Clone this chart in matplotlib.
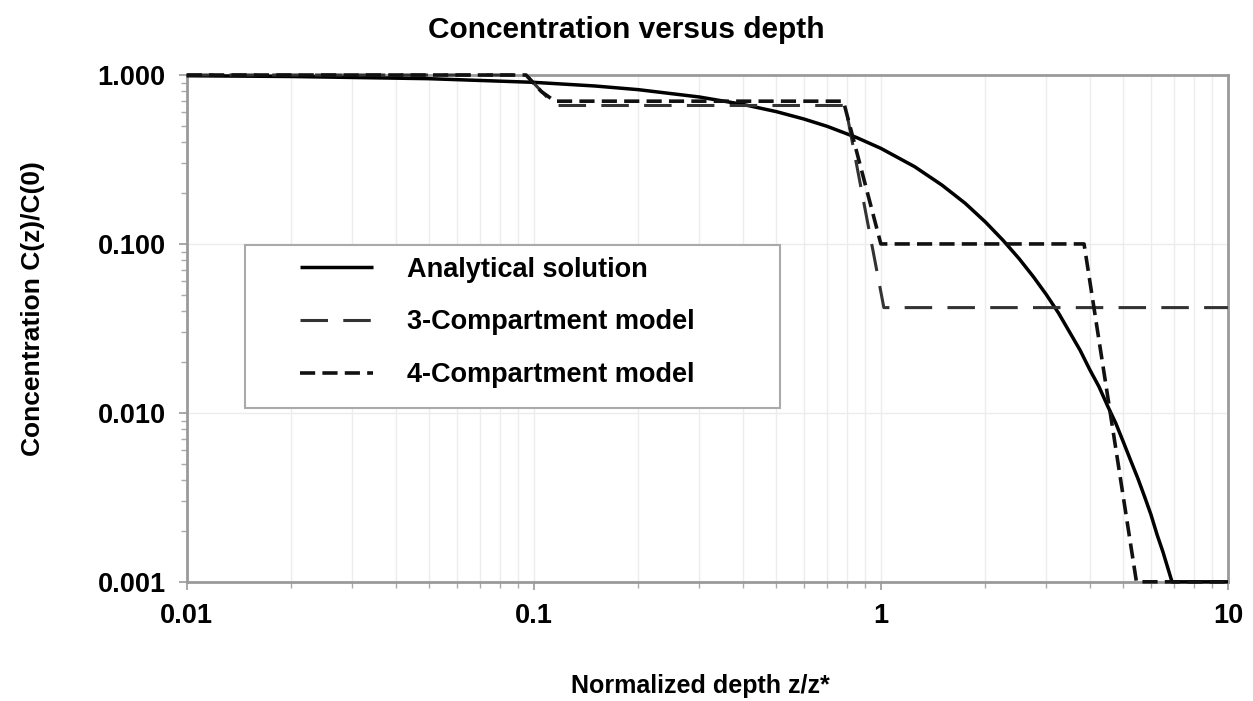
import matplotlib
matplotlib.use("Agg")
import matplotlib.pyplot as plt
from matplotlib.patches import Rectangle
from matplotlib.ticker import FixedLocator, FixedFormatter, LogLocator, NullFormatter

# Valeurs
z_analytical = [0.01, 0.02, 0.05, 0.1, 0.15, 0.2, 0.3, 0.4, 0.5, 0.6, 0.7, 0.85,
                1.0, 1.25, 1.5, 1.75, 2.0, 2.25, 2.5, 2.75, 3.0, 3.25, 3.5, 3.75,
                4.0, 4.25, 4.5, 4.75, 5.0, 5.25, 5.5, 5.75, 6.0, 6.25, 6.5, 6.9, 10.0]
c_analytical = [0.990, 0.980, 0.951, 0.905, 0.861, 0.819, 0.741, 0.670, 0.607,
                0.549, 0.497, 0.427, 0.368, 0.287, 0.223, 0.174, 0.135, 0.105,
                0.082, 0.064, 0.050, 0.039, 0.030, 0.0235, 0.018, 0.0143, 0.011,
                0.0087, 0.0067, 0.0052, 0.0041, 0.0032, 0.0025, 0.0019, 0.0015,
                0.0010, 0.0010]

z_3comp = [0.01, 0.095, 0.115, 0.79, 1.02, 10.0]
c_3comp = [1.0, 1.0, 0.66, 0.66, 0.042, 0.042]

z_4comp = [0.01, 0.095, 0.105, 0.115, 0.78, 1.0, 3.85, 5.45, 10.0]
c_4comp = [1.0, 1.0, 0.80, 0.70, 0.70, 0.10, 0.10, 0.001, 0.001]

x_ticks = [0.01, 0.1, 1, 10]
x_ticklabels = ["0.01", "0.1", "1", "10"]
y_ticks = [0.001, 0.01, 0.1, 1.0]
y_ticklabels = ["0.001", "0.010", "0.100", "1.000"]

plt.rcParams['font.family'] = ['Liberation Sans', 'DejaVu Sans']
plt.rcParams['font.weight'] = 'bold'

fig = plt.figure(figsize=(12.53, 7.01), dpi=100)
ax = fig.add_axes([0.149, 0.170, 0.831, 0.723])

ax.plot(z_analytical, c_analytical, color='black', lw=2.5, solid_capstyle='butt',
        label="Analytical solution", clip_on=False, zorder=3)
ax.plot(z_3comp, c_3comp, color='#333333', lw=2.2, dashes=(9, 5),
        label="3-Compartment model", clip_on=False, zorder=3)
ax.plot(z_4comp, c_4comp, color='#111111', lw=2.6, dashes=(4.2, 2.0),
        label="4-Compartment model", clip_on=False, zorder=3)

ax.set_xscale('log')
ax.set_yscale('log')
ax.set_xlim(0.01, 10)
ax.set_ylim(0.001, 1.0)

ax.xaxis.set_major_locator(FixedLocator(x_ticks))
ax.xaxis.set_major_formatter(FixedFormatter(x_ticklabels))
ax.yaxis.set_major_locator(FixedLocator(y_ticks))
ax.yaxis.set_major_formatter(FixedFormatter(y_ticklabels))
ax.xaxis.set_minor_locator(LogLocator(base=10, subs=range(2, 10)))
ax.yaxis.set_minor_locator(LogLocator(base=10, subs=range(2, 10)))
ax.xaxis.set_minor_formatter(NullFormatter())
ax.yaxis.set_minor_formatter(NullFormatter())

ax.tick_params(axis='both', which='major', direction='out', length=6, width=1.2,
               color='#999999', labelsize=19.5)
ax.tick_params(axis='x', which='major', pad=9)
ax.tick_params(axis='y', which='major', pad=9)
ax.tick_params(axis='both', which='minor', direction='out', length=4, width=1.0,
               color='#aaaaaa')

# grilles tres claires
ax.grid(True, axis='x', which='both', color='#ececec', lw=1.0)
ax.grid(True, axis='y', which='major', color='#ececec', lw=1.0)
ax.set_axisbelow(True)

for s in ax.spines.values():
    s.set_color('#9a9a9a')
    s.set_linewidth(2.0)

# cadre de la legende
box = Rectangle((0.056, 0.343), 0.514, 0.322, transform=ax.transAxes,
                facecolor='white', edgecolor='#aaaaaa', lw=1.5, zorder=4)
ax.add_patch(box)
leg = ax.legend(loc='upper left', bbox_to_anchor=(0.1085, 0.641), frameon=False,
                fontsize=19.5, handlelength=2.7, handletextpad=1.25,
                labelspacing=0.98, borderaxespad=0, borderpad=0)
leg.set_zorder(5)

fig.text(0.5, 0.957, "Concentration versus depth", ha='center', va='center',
         fontsize=21.5, fontweight='bold')
fig.text(0.559, 0.021, "Normalized depth z/z*", ha='center', va='center',
         fontsize=18, fontweight='bold')
fig.text(0.026, 0.56, "Concentration C(z)/C(0)", ha='center', va='center',
         rotation=90, fontsize=19, fontweight='bold')

fig.savefig("out.png", dpi=100)
